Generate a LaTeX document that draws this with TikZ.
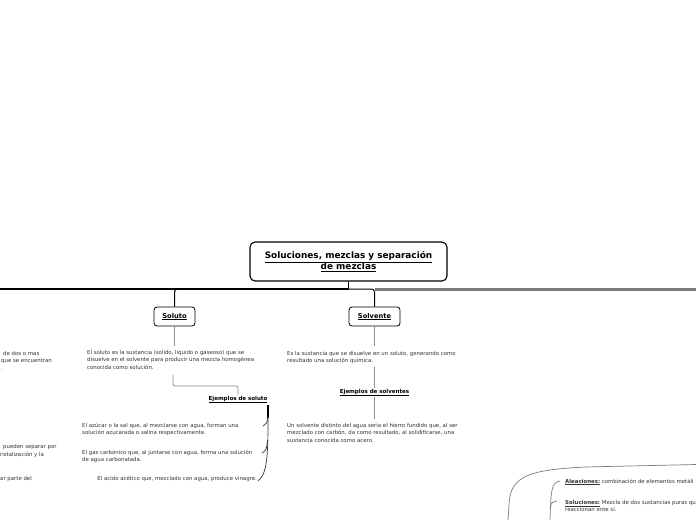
\documentclass[tikz,border=0pt]{standalone}
\usepackage{fontspec}
\setmainfont{DejaVu Sans}
\definecolor{txtgray}{HTML}{333333}
\definecolor{lngray}{HTML}{8C8C8C}
\definecolor{dkgray}{HTML}{7A7A7A}
\begin{document}
\begin{tikzpicture}[x=1pt,y=-1pt,
  txt/.style={font=\fontsize{5.4}{7.4}\selectfont, text=txtgray, align=left, inner sep=0pt, anchor=north west},
  rtxt/.style={txt, align=right, anchor=north east},
  mainbox/.style={draw=black, rounded corners=5pt, line width=1.1pt, fill=white, align=center,
    font=\bfseries\fontsize{8.9}{11}\selectfont, minimum width=197pt, minimum height=39pt, inner sep=0pt},
  topic/.style={draw=black, rounded corners=3pt, line width=0.8pt, fill=white,
    font=\bfseries\fontsize{6.7}{7}\selectfont, minimum height=19pt, inner sep=0pt},
  sub/.style={font=\bfseries\fontsize{5.5}{6}\selectfont, inner sep=1pt},
  conn/.style={draw=lngray, line width=0.7pt},
  trunk/.style={draw=black, line width=1.6pt},
  brace/.style={draw=black!80, line width=0.7pt},
  curve/.style={draw=dkgray, line width=0.7pt}]
\useasboundingbox (0,0) rectangle (696,520);
\clip (0,0) rectangle (696,520);
\fill[white] (0,0) rectangle (696,520);

% main topic
\node[mainbox] (root) at (348.5,261.5) {\underline{Soluciones, mezclas y separación}\\\underline{de mezclas}};
\coordinate (hub) at (348.5,289);
\coordinate (left) at (0,289);
\coordinate (right) at (696,289);

% main topics
\node[topic, minimum width=41pt] (soluto) at (174.5,316.5) {\underline{Soluto}};
\node[topic, minimum width=51pt] (solvente) at (374.5,316.5) {\underline{Solvente}};

% trunk lines
\fill[dkgray] (375,287.5) rectangle (696,290.5);
\draw[trunk] (root.south) -- (hub);
\draw[trunk] (left) -- (hub);
\draw[draw=black, line width=1pt, rounded corners=3pt] (hub) -- (374.5,289) -- (solvente.north);
\draw[draw=black, line width=1pt, rounded corners=3pt] (hub) -- (174.5,289) -- (soluto.north);

% Soluto branch
\node[txt] (stxt) at (87,350) {El soluto es la sustancia (solido, liquido o gaseoso) que se\\disuelve en el solvente para producir una mezcla homogénea\\conocida como solución.};
\draw[conn] (soluto.south) -- (174.5,346);
\node[sub] (ejsol) at (238,399.5) {\underline{Ejemplos de soluto}};
\draw[conn, rounded corners=2pt] (173,375) |- (238,386) -- (ejsol.north);

\node[txt] (ex1) at (82,423) {El azúcar o la sal que, al mezclarse con agua, forman una\\solución azucarada o salina respectivamente.};
\node[txt] (ex2) at (82,450) {El gas carbónico que, al juntarse con agua, forma una solución\\de agua carbonatada.};
\node[rtxt] (ex3) at (257,476) {El acido acético que, mezclado con agua, produce vinagre.};

\coordinate (b0) at (268,405);
\draw[draw=black, line width=1.4pt] (b0) -- (268,418);
\draw[brace] (268,416) .. controls (268,450) and (268,474) .. (258,481);
\draw[brace] (267.5,418) .. controls (267,423) .. (263,426);
\draw[brace] (267.5,440) .. controls (266.5,450) .. (262,453);

% Solvente branch
\node[txt] (vtxt) at (287,351) {Es la sustancia que se disuelve en un soluto, generando como\\resultado una solución química.};
\draw[conn] (solvente.south) -- (374.5,346);
\node[sub] (ejsolv) at (374.5,392.5) {\underline{Ejemplos de solventes}};
\draw[conn] (374.5,367) -- (ejsolv.north);
\node[txt] (vex) at (287,423) {Un solvente distinto del agua seria el hierro fundido que, al ser\\mezclado con carbón, da como resultado, al solidificarse, una\\sustancia conocida como acero.};
\draw[conn] (ejsolv.south) -- (374.5,419);

% left cut-off texts
\node[txt] (l1) at (1,351) {\hspace{2pt}de dos o mas\\que se encuentran\\.};
\node[txt] (l2) at (0,444.5) {\hspace{3pt}pueden separar por\\ristalización y la};
\node[txt] (l3) at (0,476) {ar parte del};

% bottom right
\coordinate (c0) at (508,520);
\draw[curve] (c0) -- (509,505) .. controls (510,476) and (528,470) .. (585,467) -- (696,464.5);
\coordinate (d0) at (550,520);
\node[txt, anchor=west] (al) at (565,482) {\textbf{\underline{Aleaciones:}} combinación de elementos metáli};
\node[txt] (so) at (565,500) {\textbf{\underline{Soluciones:}} Mezcla de dos sustancias puras qu\\reaccionan ente sí.};
\draw[curve] (d0) -- (550.5,507) .. controls (551,502) and (553,502) .. (557,501);
\draw[curve] (550.5,508) .. controls (551,488) and (553,482) .. (560,481);
\end{tikzpicture}
\end{document}
